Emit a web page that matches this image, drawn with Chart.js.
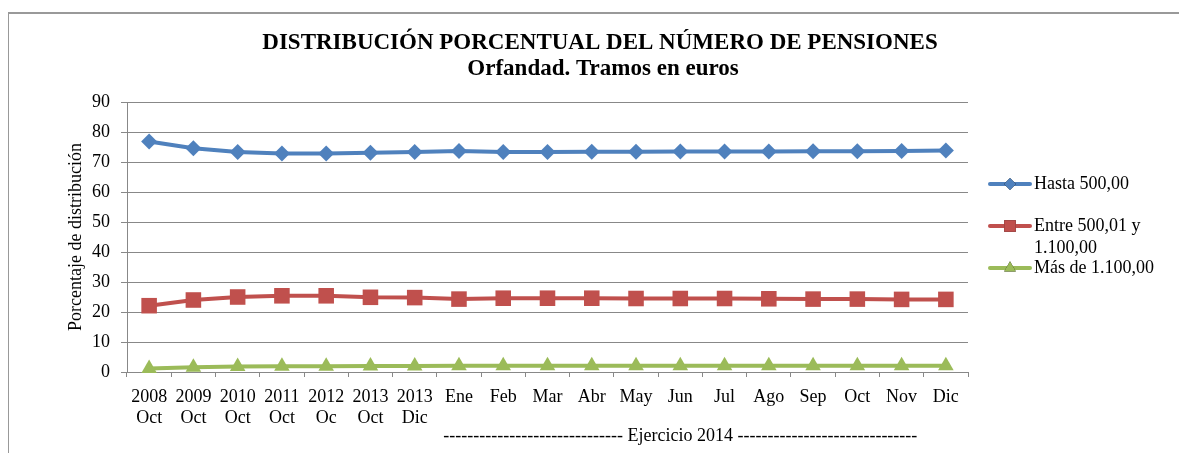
<!DOCTYPE html>
<html>
<head>
<meta charset="utf-8">
<script src="https://cdn.jsdelivr.net/npm/chart.js@4"></script>
<style>
  html, body { margin: 0; padding: 0; background: #fff; overflow: hidden; }
  #wrap { position: relative; width: 1179px; height: 453px; }
  #frame { position: absolute; left: 8px; top: 12px; width: 1300px; height: 600px;
           border-left: 1px solid #999; border-top: 2px solid #999; }
  canvas { position: absolute; left: 0; top: 0; }
</style>
</head>
<body>
<div id="wrap">
  <div id="frame"></div>
  <canvas id="pensionChart" width="1179" height="453"></canvas>
</div>
<script>
const labels = [
    ['2008', 'Oct'], ['2009', 'Oct'], ['2010', 'Oct'], ['2011', 'Oct'], ['2012', 'Oc'],
    ['2013', 'Oct'], ['2013', 'Dic'], 'Ene', 'Feb', 'Mar', 'Abr', 'May', 'Jun',
    'Jul', 'Ago', 'Sep', 'Oct', 'Nov', 'Dic'
];
const hasta500 = [76.8, 74.6, 73.3, 72.8, 72.8, 73.1, 73.3, 73.7, 73.3, 73.3, 73.4, 73.4, 73.5, 73.5, 73.5, 73.6, 73.6, 73.7, 73.8];
const entre500y1100 = [22.1, 24.0, 25.0, 25.4, 25.4, 24.9, 24.8, 24.3, 24.6, 24.6, 24.6, 24.5, 24.5, 24.5, 24.4, 24.3, 24.3, 24.2, 24.2];
const masDe1100 = [1.2, 1.6, 1.8, 1.9, 1.9, 2.0, 2.0, 2.1, 2.1, 2.1, 2.1, 2.1, 2.1, 2.1, 2.1, 2.1, 2.1, 2.1, 2.1];
const yTicks = [0, 10, 20, 30, 40, 50, 60, 70, 80, 90];

const serif = '"Liberation Serif", "Times New Roman", serif';

// titles, custom legend and the "Ejercicio 2014" note
const decorations = {
    id: 'decorations',
    afterDraw(chart) {
        const ctx = chart.ctx;
        ctx.save();
        ctx.fillStyle = '#000';
        ctx.textAlign = 'center';
        ctx.textBaseline = 'middle';
        ctx.font = 'bold 23px ' + serif;
        ctx.fillText('DISTRIBUCIÓN PORCENTUAL DEL NÚMERO DE PENSIONES', 600, 43);
        ctx.fillText('Orfandad. Tramos en euros', 603, 69);

        const x = chart.scales.x;
        const dash = '-'.repeat(30);
        ctx.font = '18px ' + serif;
        ctx.fillText(dash + ' Ejercicio 2014 ' + dash, (x.getPixelForValue(7) + x.getPixelForValue(17)) / 2, 436);

        const items = [
            { ds: 0, y: 184, text: ['Hasta 500,00'] },
            { ds: 1, y: 226, text: ['Entre 500,01 y', '1.100,00'] },
            { ds: 2, y: 268, text: ['Más de 1.100,00'] }
        ];
        ctx.textAlign = 'left';
        ctx.font = '18px ' + serif;
        items.forEach(it => {
            const ds = chart.data.datasets[it.ds];
            ctx.strokeStyle = ds.borderColor;
            ctx.lineWidth = 4;
            ctx.lineCap = 'round';
            ctx.beginPath();
            ctx.moveTo(990, it.y);
            ctx.lineTo(1030, it.y);
            ctx.stroke();
            Chart.helpers.drawPoint(ctx, {
                pointStyle: ds.pointStyle, radius: ds.pointRadius * 0.75, borderWidth: 0
            }, 1010, it.y);
            ctx.fillStyle = ds.backgroundColor;
            ctx.fill();
            ctx.fillStyle = '#000';
            it.text.forEach((t, i) => ctx.fillText(t, 1034, it.y + i * 22));
        });
        ctx.restore();
    }
};

new Chart(document.getElementById('pensionChart'), {
    type: 'line',
    data: {
        labels: labels,
        datasets: [
            {
                label: 'Hasta 500,00',
                data: hasta500,
                borderColor: '#4F81BD',
                backgroundColor: '#4F81BD',
                borderWidth: 4,
                pointStyle: 'rectRot',
                pointRadius: 8,
                pointBorderWidth: 0,
                clip: false
            },
            {
                label: 'Entre 500,01 y 1.100,00',
                data: entre500y1100,
                borderColor: '#C0504D',
                backgroundColor: '#C0504D',
                borderWidth: 4,
                pointStyle: 'rect',
                pointRadius: 11,
                pointBorderWidth: 0,
                clip: false
            },
            {
                label: 'Más de 1.100,00',
                data: masDe1100,
                borderColor: '#9BBB59',
                backgroundColor: '#9BBB59',
                borderWidth: 4,
                pointStyle: 'triangle',
                pointRadius: 9,
                pointBorderWidth: 0,
                clip: false
            }
        ]
    },
    options: {
        responsive: false,
        animation: false,
        devicePixelRatio: 1,
        layout: {
            padding: { left: 20, top: 102, right: 211, bottom: 0 }
        },
        plugins: {
            legend: { display: false },
            title: { display: false },
            tooltip: { enabled: false }
        },
        scales: {
            x: {
                offset: true,
                afterFit: s => { s.height = 81; },
                grid: {
                    offset: true,
                    drawOnChartArea: false,
                    drawTicks: true,
                    tickLength: 5,
                    color: '#888'
                },
                border: { color: '#888', width: 1 },
                ticks: {
                    color: '#000',
                    font: { family: serif, size: 18, lineHeight: 1.17 },
                    maxRotation: 0,
                    autoSkip: false,
                    padding: 10
                }
            },
            y: {
                min: 0,
                max: 90,
                afterFit: s => { s.width = 107; },
                afterBuildTicks: s => { s.ticks = yTicks.map(v => ({ value: v })); },
                grid: { color: '#888', tickLength: 6, lineWidth: 1 },
                border: { color: '#888', width: 1 },
                ticks: {
                    color: '#000',
                    font: { family: serif, size: 18 },
                    padding: 11
                },
                title: {
                    display: true,
                    text: 'Porcentaje de distribución',
                    color: '#000',
                    font: { family: serif, size: 18 },
                    padding: { top: 45, bottom: 0 }
                }
            }
        }
    },
    plugins: [decorations]
});
</script>
</body>
</html>
